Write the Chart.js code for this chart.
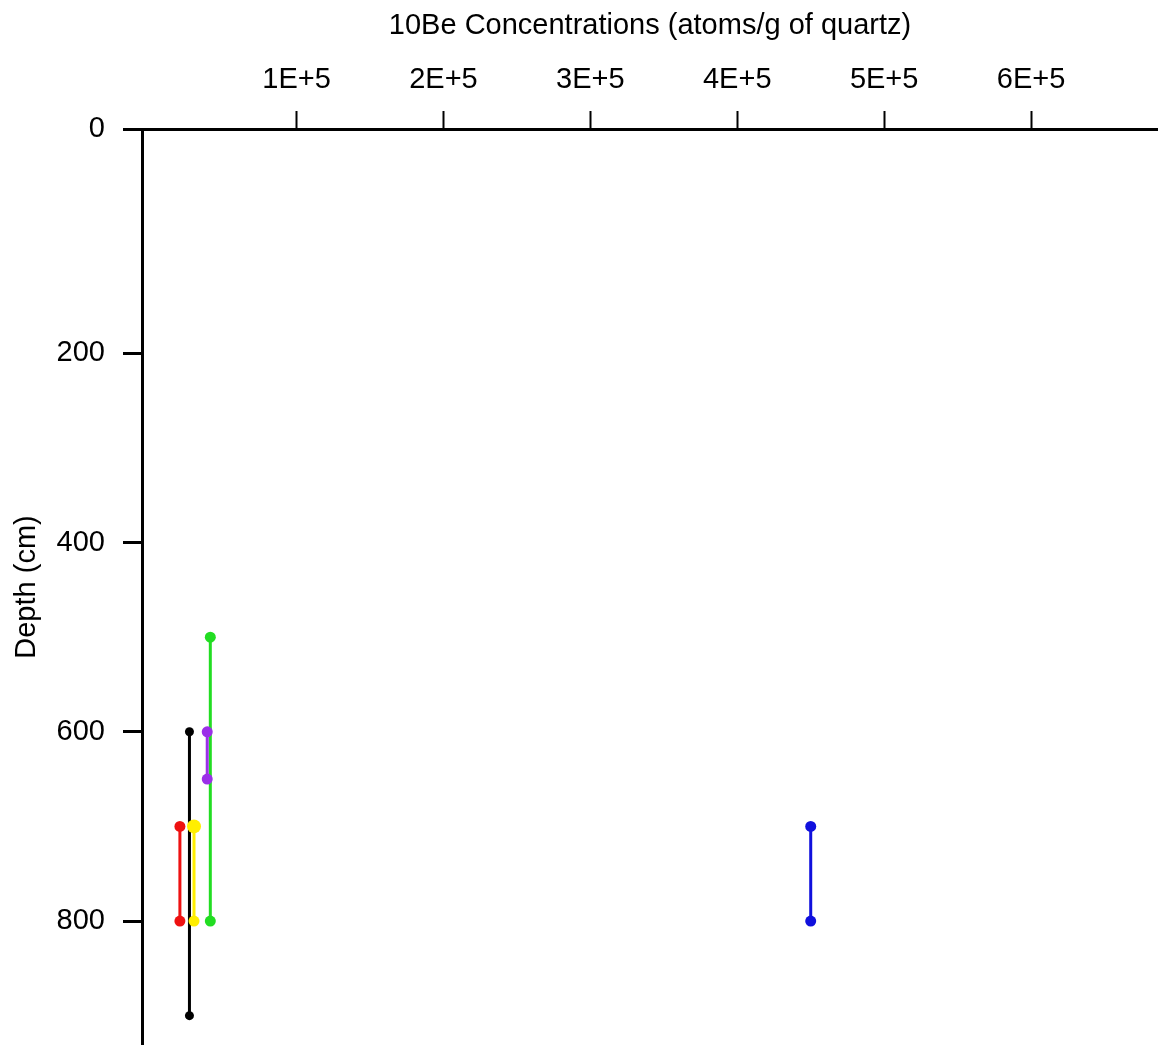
<!DOCTYPE html>
<html>
<head>
<meta charset="utf-8">
<title>10Be depth profile</title>
<script src="https://cdn.jsdelivr.net/npm/chart.js@4.4.1/dist/chart.umd.min.js"></script>
<style>
  html, body { margin: 0; padding: 0; background: #fff; overflow: hidden; }
  canvas { display: block; }
</style>
</head>
<body>
<canvas id="depthChart" width="1158" height="1045"></canvas>
<script>
// one vertical bar per sample, from its top depth down to its bottom depth
// (first entry is drawn on top)
const sampleColors = ["#ffee00", "#9b30e8", "#000000", "#ee1111", "#22dd22", "#1010dd"];
const concentrations = [30200, 39200, 27100, 20600, 41300, 450000];
const topDepths = [700, 600, 600, 700, 500, 700];
const bottomDepths = [800, 650, 900, 800, 800, 800];
const topRadius = [7, 5.5, 4.5, 5.5, 5.5, 5.5];
const bottomRadius = [5.5, 5.5, 4.5, 5.5, 5.5, 5.5];

const concTicks = [100000, 200000, 300000, 400000, 500000, 600000];
// the depth axis starts a little above the surface; its top tick is labelled 0
const depthTicks = [-37, 200, 400, 600, 800];
const depthTickLabels = ["0", "200", "400", "600", "800"];

const FONT = "Arial, 'Liberation Sans', sans-serif";

const datasets = concentrations.map((c, i) => ({
  data: [
    { x: c, y: topDepths[i] },
    { x: c, y: bottomDepths[i] },
  ],
  showLine: true,
  borderColor: sampleColors[i],
  backgroundColor: sampleColors[i],
  borderWidth: 3,
  pointRadius: [topRadius[i], bottomRadius[i]],
  pointBorderWidth: 0,
  pointBackgroundColor: sampleColors[i],
}));

new Chart(document.getElementById("depthChart"), {
  type: "scatter",
  data: { datasets },
  options: {
    responsive: false,
    animation: false,
    layout: { padding: 0, autoPadding: false },
    plugins: { legend: { display: false }, tooltip: { enabled: false } },
    scales: {
      x: {
        type: "linear",
        position: "top",
        min: -5200,
        max: 686400,
        afterBuildTicks: (s) => {
          s.ticks = concTicks.map((v) => ({ value: v }));
        },
        afterFit: (s) => {
          s.height = 129;
        },
        border: { color: "#000", width: 3 },
        grid: {
          drawOnChartArea: false,
          drawTicks: true,
          tickLength: 18,
          tickWidth: 2,
          tickColor: "#000",
        },
        ticks: {
          color: "#000",
          font: { family: FONT, size: 29 },
          padding: 14,
          maxRotation: 0,
          autoSkip: false,
          callback: (v) => v / 100000 + "E+5",
        },
        title: {
          display: true,
          text: "10Be Concentrations (atoms/g of quartz)",
          color: "#000",
          font: { family: FONT, size: 29 },
          padding: { top: 9, bottom: 0 },
        },
      },
      y: {
        type: "linear",
        reverse: true,
        min: -37,
        max: 931,
        afterBuildTicks: (s) => {
          s.ticks = depthTicks.map((v) => ({ value: v }));
        },
        afterFit: (s) => {
          s.width = 142;
          s.paddingTop = 0;
          s.paddingBottom = 0;
        },
        border: { color: "#000", width: 3 },
        grid: {
          drawOnChartArea: false,
          drawTicks: true,
          tickLength: 19,
          tickWidth: 3,
          tickColor: "#000",
        },
        ticks: {
          color: "#000",
          font: { family: FONT, size: 29 },
          padding: 18,
          autoSkip: false,
          callback: (v, i) => depthTickLabels[i],
        },
        title: {
          display: true,
          text: "Depth (cm)",
          color: "#000",
          font: { family: FONT, size: 29 },
          padding: { top: 10, bottom: 0 },
        },
      },
    },
  },
});
</script>
</body>
</html>
